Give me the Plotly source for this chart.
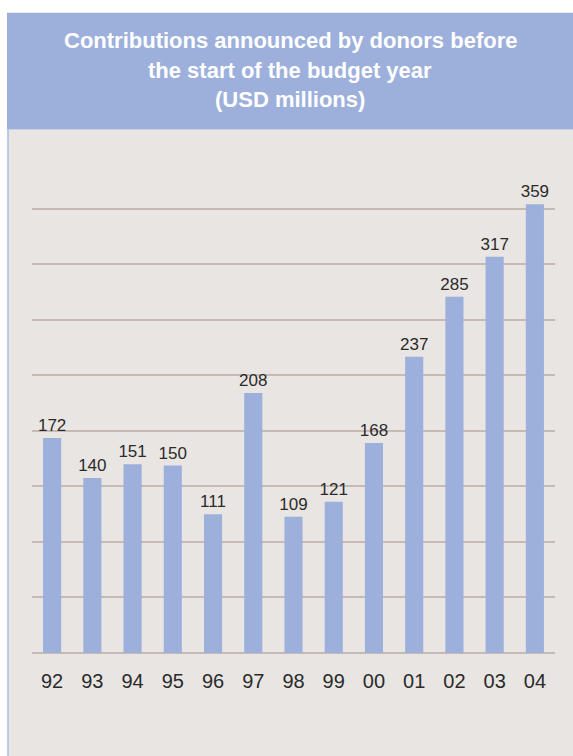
import plotly.graph_objects as go

years = ["92", "93", "94", "95", "96", "97", "98", "99", "00", "01", "02", "03", "04"]
contributions = [172, 140, 151, 150, 111, 208, 109, 121, 168, 237, 285, 317, 359]
title_lines = ["Contributions announced by donors before", "the start of the budget year", "(USD millions)"]

W, H = 573, 756
L, R, T, B = 32, 555, 152.5, 653.3

def px(x):
    return (x - L) / (R - L)

def py(y):
    return (B - y) / (B - T)

BAR = "#9cb0db"
PANEL = "#e9e5e2"
GRID = "#c6bab4"

fig = go.Figure(go.Bar(
    x=years, y=contributions, marker_color=BAR, marker_line_width=0,
    text=[str(v) for v in contributions], textposition="outside", constraintext="none",
    textfont=dict(family="Liberation Sans, Arial, sans-serif", size=17, color="#2b2b2b"),
    cliponaxis=False,
))

shapes = [
    dict(type="rect", xref="paper", yref="paper", x0=px(8), x1=px(600), y0=py(800), y1=py(129),
         fillcolor=PANEL, line_width=0, layer="below"),
    dict(type="rect", xref="paper", yref="paper", x0=px(7), x1=px(600), y0=py(129), y1=py(12),
         fillcolor="#9db0dc", line_width=0, layer="below"),
    dict(type="line", xref="paper", yref="paper", x0=px(8), x1=px(8), y0=py(800), y1=py(129),
         line=dict(color="#a8bbe4", width=1.5), layer="below"),
]

annotations = []
for line, yc in zip(title_lines, [40, 69.5, 99]):
    annotations.append(dict(
        text="<b>" + line + "</b>", xref="paper", yref="paper", x=px(290), y=py(yc),
        xanchor="center", yanchor="middle", showarrow=False,
        font=dict(family="Liberation Sans Narrow, Liberation Sans, Arial, sans-serif", size=22, color="white"),
    ))

fig.update_layout(
    width=W, height=H,
    margin=dict(l=L, r=W - R, t=T, b=H - B, pad=0),
    paper_bgcolor="white", plot_bgcolor="rgba(0,0,0,0)",
    showlegend=False, bargap=0.55, hovermode=False,
    shapes=shapes, annotations=annotations,
    xaxis=dict(type="category", showgrid=False, showline=False, zeroline=False,
               ticks="", ticklabelstandoff=14,
               tickfont=dict(family="Liberation Sans, Arial, sans-serif", size=20, color="#2b2b2b")),
    yaxis=dict(range=[0, 400], tick0=0, dtick=400 / 9, showticklabels=False, ticks="",
               showgrid=True, gridcolor=GRID, gridwidth=1.5, zeroline=True,
               zerolinecolor=GRID, zerolinewidth=1.5, showline=False),
)

fig.write_html("out.html", config={"displayModeBar": False},
               post_script="document.body.style.margin='0';document.body.style.overflow='hidden';")
